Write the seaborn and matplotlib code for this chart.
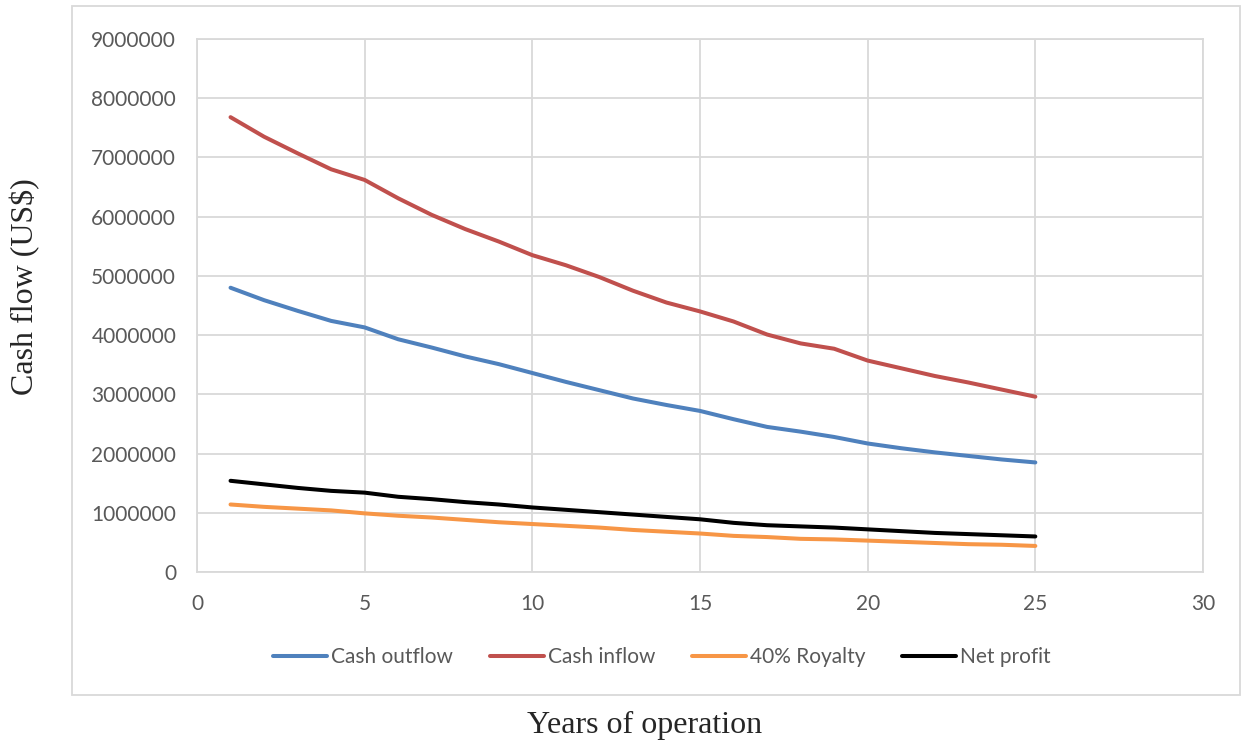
import matplotlib
matplotlib.use("Agg")
import matplotlib.pyplot as plt
from matplotlib.patches import Rectangle
import numpy as np
import pandas as pd
import seaborn as sns

# Annual cash flows over the operating life (US$)
years = list(range(1, 26))
cash_outflow = [4800000, 4590000, 4410000, 4240000, 4130000, 3930000, 3790000, 3640000,
                3510000, 3360000, 3210000, 3070000, 2930000, 2820000, 2720000, 2580000,
                2450000, 2370000, 2280000, 2170000, 2090000, 2020000, 1960000, 1900000,
                1850000]
cash_inflow = [7680000, 7350000, 7070000, 6800000, 6620000, 6310000, 6030000, 5790000,
               5580000, 5350000, 5180000, 4980000, 4750000, 4550000, 4400000, 4230000,
               4010000, 3860000, 3770000, 3570000, 3440000, 3310000, 3200000, 3080000,
               2960000]
royalty = [1140000, 1100000, 1070000, 1040000, 990000, 950000, 920000, 880000,
           840000, 810000, 780000, 750000, 710000, 680000, 650000, 610000,
           590000, 560000, 550000, 530000, 510000, 490000, 470000, 460000,
           440000]
net_profit = [1540000, 1480000, 1420000, 1370000, 1340000, 1270000, 1230000, 1180000,
              1140000, 1090000, 1050000, 1010000, 970000, 930000, 890000, 830000,
              790000, 770000, 750000, 720000, 690000, 660000, 640000, 620000,
              600000]

series_names = ["Cash outflow", "Cash inflow", "40% Royalty", "Net profit"]
series_values = [cash_outflow, cash_inflow, royalty, net_profit]
series_colors = ["#4F81BD", "#C0504D", "#F79646", "#000000"]

x_ticks = [0, 5, 10, 15, 20, 25, 30]
y_ticks = [0, 1000000, 2000000, 3000000, 4000000, 5000000, 6000000, 7000000, 8000000, 9000000]

frames = [pd.DataFrame({"Year": years, "Value": vals, "Series": name})
          for name, vals in zip(series_names, series_values)]
df = pd.concat(frames, ignore_index=True)

sns.set_style("white")
plt.rcParams["font.family"] = ["Lato", "DejaVu Sans"]

W, H = 1242, 745
fig = plt.figure(figsize=(W / 100, H / 100), dpi=100)
ax = fig.add_axes([197 / W, 1 - 572 / H, (1203 - 197) / W, (572 - 39) / H])

grid_color = "#d9d9d9"
text_color = "#595959"

sns.lineplot(data=df, x="Year", y="Value", hue="Series", hue_order=series_names,
             palette=series_colors, linewidth=2.9, ax=ax, legend=False)

ax.set_xlim(0, 30)
ax.set_ylim(0, 9000000)
ax.set_xticks(x_ticks)
ax.set_yticks(y_ticks)
ax.set_xticklabels([str(t) for t in x_ticks])
ax.set_yticklabels([str(t) for t in y_ticks])
ax.grid(True, color=grid_color, linewidth=1.3)
ax.set_axisbelow(True)
for s in ax.spines.values():
    s.set_color(grid_color)
    s.set_linewidth(1.3)
ax.tick_params(axis="both", length=0, labelsize=15, labelcolor=text_color)
ax.tick_params(axis="x", pad=16)
ax.tick_params(axis="y", pad=15)
ax.set_xlabel("")
ax.set_ylabel("")

# Chart area border
fig.patches.append(Rectangle((72 / W, 1 - 695 / H), (1240 - 72) / W, (695 - 6) / H,
                             transform=fig.transFigure, fill=False,
                             edgecolor=grid_color, linewidth=1.3))

# Legend below the plot
handles = [plt.Line2D([], [], color=c, linewidth=2.9) for c in series_colors]
leg = fig.legend(handles, series_names, loc="center", bbox_to_anchor=(662 / W, 1 - 657 / H),
                 ncol=4, frameon=False, fontsize=15, handlelength=2.6,
                 handletextpad=0.2, columnspacing=1.75)
for t in leg.get_texts():
    t.set_color(text_color)

# Axis titles in serif
fig.text(645 / W, 1 - 725 / H, "Years of operation", ha="center", va="center",
         fontsize=23, family=["Liberation Serif", "DejaVu Serif"])
fig.text(25 / W, 1 - 287 / H, "Cash flow (US$)", ha="center", va="center", rotation=90,
         fontsize=23, family=["Liberation Serif", "DejaVu Serif"])

fig.savefig("out.png", dpi=100)
